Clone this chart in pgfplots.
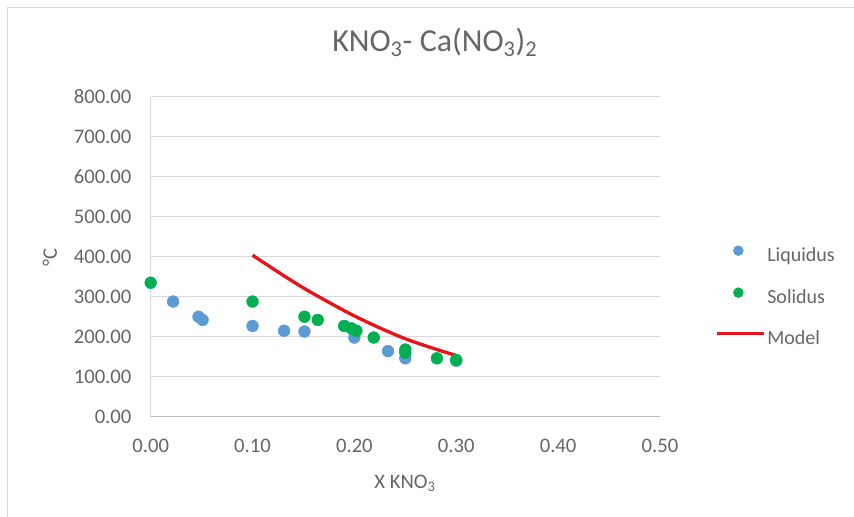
\documentclass[border=0pt]{standalone}
\usepackage{pgfplots}
\pgfplotsset{compat=1.18}
\usepackage{fontspec}
\setmainfont{Carlito}
\definecolor{txt}{HTML}{666666}
\definecolor{gridc}{HTML}{D9D9D9}
\definecolor{axl}{HTML}{BFBFBF}
\definecolor{liq}{HTML}{5B9BD5}
\definecolor{sol}{HTML}{00B050}
\definecolor{modc}{HTML}{E8141C}
\pgfplotsset{
  markleg/.style={legend image code/.code={\path[##1, mark size=3.7pt] plot coordinates {(16.3pt,4pt)};}},
  lineleg/.style={legend image code/.code={\draw[##1] (0pt,4pt) -- (35.25pt,4pt);}},
}
\begin{document}
\begin{tikzpicture}[x=0.75pt,y=0.75pt]
\useasboundingbox (0,0) rectangle (854,517);
\fill[white] (0,0) rectangle (854,517);
\draw[gray!30, line width=0.75pt] (7,0) -- (7,509) -- (854,509);
\begin{axis}[
  at={(113.0pt,75.2pt)}, anchor=south west,
  width=381.98pt, height=240pt, scale only axis,
  clip=false,
  xmin=0, xmax=0.5, ymin=0, ymax=800,
  xtick={0,0.1,0.2,0.3,0.4,0.5},
  ytick={0,100,200,300,400,500,600,700,800},
  ymajorgrids, grid style={gridc, line width=0.75pt},
  axis x line*=bottom, axis y line*=left,
  x axis line style={axl, line width=0.9pt, -},
  y axis line style={gridc, line width=0.75pt, -},
  major tick length=0pt,
  tick label style={font=\fontsize{15.5}{16}\selectfont, text=txt, inner sep=0pt},
  yticklabel style={anchor=east, xshift=-14.25pt},
  xticklabel style={anchor=north, yshift=-16.4pt},
  /pgf/number format/.cd, fixed, fixed zerofill, precision=2, assume math mode=true, 1000 sep={},
  /pgfplots/.cd,
  title={KNO\textsubscript{3}- Ca(NO\textsubscript{3})\textsubscript{2}},
  title style={at={(rel axis cs:0.558,1.146)}, anchor=center, font=\fontsize{24}{26}\selectfont, text=txt, inner sep=0pt},
  xlabel={X KNO\textsubscript{3}},
  xlabel style={at={(rel axis cs:0.4993,-0.207)}, anchor=center, font=\fontsize{15.5}{16}\selectfont, text=txt, inner sep=0pt},
  ylabel={°C},
  ylabel style={at={(rel axis cs:-0.198,0.499)}, anchor=center, font=\fontsize{15.5}{16}\selectfont, text=txt, inner sep=0pt},
  legend style={at={(rel axis cs:1.108,0.374)}, anchor=west, draw=none, fill=none, inner sep=0pt, outer sep=0pt,
    font=\fontsize{15}{15}\selectfont, text=txt, row sep=16.75pt, column sep=1.5pt,
    nodes={inner sep=0pt, text height=11pt, text depth=3pt}},
  legend cell align=left,
]
\addplot[only marks, mark=*, mark size=4.4pt, mark options={draw=liq, fill=liq}, markleg]
  coordinates {
  (0.022,288) (0.047,250) (0.051,242) (0.100,227) (0.131,215) (0.151,213)
  (0.200,198) (0.233,164) (0.250,146) (0.300,140)
  };
\addlegendentry{Liquidus}
\addplot[only marks, mark=*, mark size=4.4pt, mark options={draw=sol, fill=sol}, markleg]
  coordinates {
  (0.000,335) (0.100,288) (0.151,250) (0.164,242) (0.190,227) (0.197,221)
  (0.202,215) (0.219,198) (0.250,168) (0.250,160) (0.281,146) (0.300,142)
  };
\addlegendentry{Solidus}
\addplot[modc, line width=2.5pt, smooth, no marks, lineleg]
  coordinates {
  (0.100,404) (0.125,362) (0.150,322) (0.175,286) (0.200,252)
  (0.225,222) (0.250,195) (0.275,173) (0.300,153)
  };
\addlegendentry{Model}
\end{axis}
\end{tikzpicture}
\end{document}
